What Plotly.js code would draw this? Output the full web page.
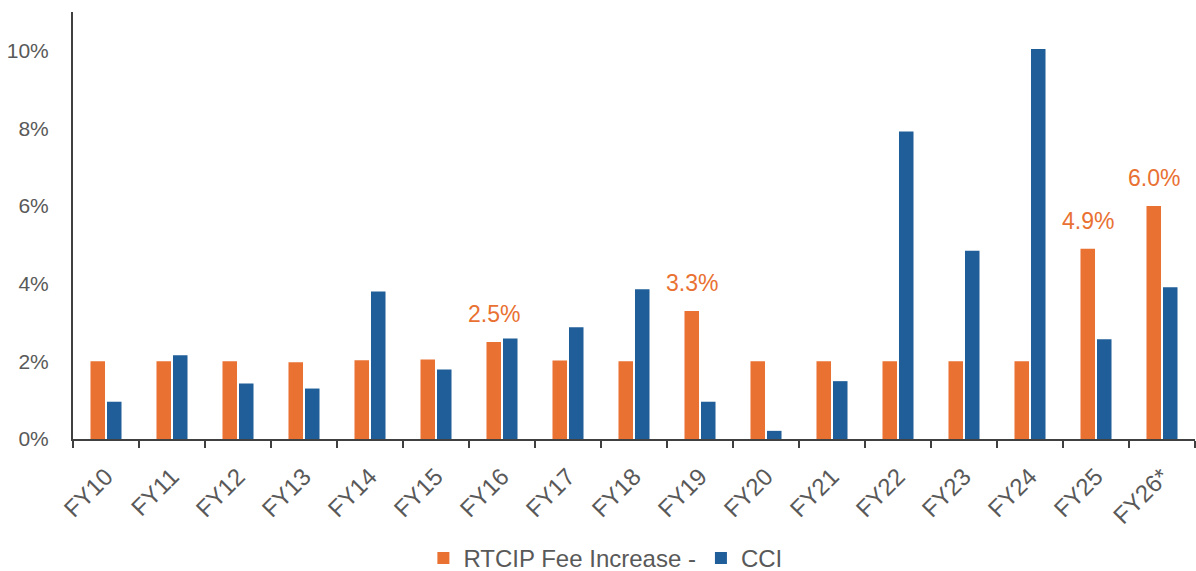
<!DOCTYPE html>
<html>
<head>
<meta charset="utf-8">
<script src="https://cdn.plot.ly/plotly-3.0.1.min.js"></script>
<style>
html,body{margin:0;padding:0;background:#fff;}
#chart{width:1196px;height:571px;}
</style>
</head>
<body>
<div id="chart"></div>
<script>
var categories = ['FY10','FY11','FY12','FY13','FY14','FY15','FY16','FY17','FY18','FY19','FY20','FY21','FY22','FY23','FY24','FY25','FY26*'];
var rtcip = [2.0, 2.0, 2.0, 1.98, 2.03, 2.05, 2.5, 2.02, 2.0, 3.3, 2.0, 2.0, 2.0, 2.0, 2.0, 4.9, 6.0];
var cci = [0.96, 2.16, 1.43, 1.30, 3.80, 1.79, 2.59, 2.88, 3.86, 0.96, 0.21, 1.49, 7.92, 4.85, 10.05, 2.57, 3.91];
var labelled = [false,false,false,false,false,false,true,false,false,true,false,false,false,false,false,true,true];
var yTicks = [0, 2, 4, 6, 8, 10];

var ORANGE = '#E97132';
var BLUE = '#205E99';
var AXIS = '#404040';
var TEXT = '#595959';
var FONT = 'Arial, "Liberation Sans", sans-serif';

var traces = [
  {
    type: 'bar', name: 'RTCIP Fee Increase -', x: categories, y: rtcip,
    marker: {color: ORANGE, line: {width: 0}},
    hoverinfo: 'x+y'
  },
  {
    type: 'bar', name: 'CCI', x: categories, y: cci,
    marker: {color: BLUE, line: {width: 0}},
    hoverinfo: 'x+y'
  }
];

// value labels above selected orange bars, anchored to the data point
var annotations = [];
rtcip.forEach(function(v, i){
  if (!labelled[i]) return;
  annotations.push({
    x: categories[i], y: v, xref: 'x', yref: 'y',
    text: v.toFixed(1) + '%', showarrow: false,
    xanchor: 'center', yanchor: 'bottom', xshift: -8.5, yshift: 13,
    font: {family: FONT, size: 23, color: ORANGE}
  });
});

var layout = {
  width: 1196, height: 571,
  margin: {l: 73, r: 1, t: 12, b: 132},
  paper_bgcolor: '#fff', plot_bgcolor: '#fff',
  font: {family: FONT, color: TEXT},
  barmode: 'group', bargap: 0.5, bargroupgap: 0.12,
  showlegend: true,
  legend: {
    orientation: 'h', xref: 'paper', x: 0.4745, xanchor: 'center',
    yref: 'container', y: 0.022, yanchor: 'middle',
    font: {family: FONT, size: 24, color: TEXT}, traceorder: 'normal'
  },
  annotations: annotations,
  xaxis: {
    type: 'category', categoryorder: 'array', categoryarray: categories,
    tickson: 'boundaries', ticks: 'outside', ticklen: 7, tickwidth: 2, tickcolor: AXIS,
    showline: true, linecolor: AXIS, linewidth: 2,
    showgrid: false, zeroline: false,
    tickangle: -45, ticklabelstandoff: 12,
    tickfont: {family: FONT, size: 24, color: TEXT}
  },
  xaxis2: {
    overlaying: 'x', anchor: 'y', side: 'bottom',
    range: [-0.5, categories.length - 0.5], tickmode: 'linear', tick0: -0.5, dtick: 1,
    ticks: 'inside', ticklen: 7, tickwidth: 2, tickcolor: AXIS,
    showticklabels: false, showgrid: false, zeroline: false, showline: false
  },
  yaxis: {
    range: [0, 11], tickmode: 'array', tickvals: yTicks,
    ticktext: yTicks.map(function(v){ return v + '%'; }),
    ticks: '', showgrid: false, zeroline: false,
    showline: true, linecolor: AXIS, linewidth: 2,
    ticklabelstandoff: 18,
    tickfont: {family: FONT, size: 21, color: TEXT}
  }
};

Plotly.newPlot('chart', traces, layout, {displayModeBar: false, staticPlot: true});
</script>
</body>
</html>
